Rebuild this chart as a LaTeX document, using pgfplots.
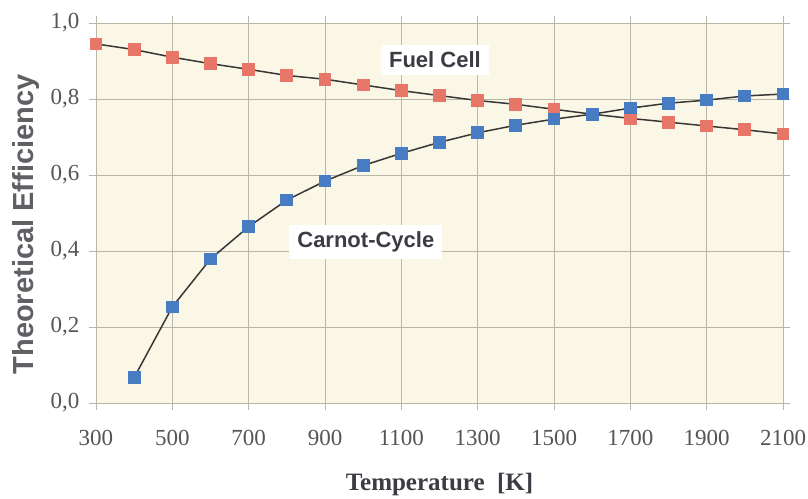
\documentclass[border=0pt]{standalone}
\usepackage{fontspec}
\setmainfont{Liberation Serif}
\newfontfamily\arialfont{Liberation Sans}
\usepackage{pgfplots}
\pgfplotsset{compat=1.18}
\definecolor{bgc}{RGB}{251,247,230}
\definecolor{gridc}{RGB}{185,183,168}
\definecolor{fuelc}{RGB}{232,118,104}
\definecolor{carnc}{RGB}{72,124,194}
\definecolor{linec}{RGB}{55,55,55}
\definecolor{tickc}{RGB}{85,85,85}
\definecolor{labc}{RGB}{95,95,100}
\definecolor{annc}{RGB}{60,60,68}
\begin{document}
\begin{tikzpicture}[x=1pt,y=1pt]
\useasboundingbox (0,0) rectangle (808,498);
\begin{axis}[
  at={(96pt,95pt)}, anchor=south west,
  scale only axis, width=687pt, height=380pt,
  xmin=300, xmax=2100, ymin=0, ymax=1,
  xtick={300,500,...,2100},
  ytick={0,0.2,...,1.0},
  grid=major,
  major grid style={draw=gridc, line width=0.7pt},
  axis line style={draw=gridc, line width=0.8pt},
  tick style={draw=gridc, line width=0.8pt},
  tick align=outside, major tick length=7pt,
  axis background/.style={fill=bgc},
  xticklabel style={font=\fontsize{23}{26}\selectfont, text=tickc, /pgf/number format/1000 sep={}},
  yticklabel style={font=\fontsize{23}{26}\selectfont, text=tickc,
     /pgf/number format/.cd, use comma, fixed, fixed zerofill, precision=1},
  /pgf/number format/assume math mode=true,
  xticklabel shift=17pt, yticklabel shift=6pt,
  xlabel={\textbf{Temperature\ \ [K]}},
  xlabel style={font=\fontsize{25}{28}\selectfont, text=annc, at={(ticklabel cs:0.5)}, yshift=-20pt},
  ylabel={\arialfont\bfseries Theoretical Efficiency},
  ylabel style={font=\fontsize{29}{31}\selectfont, text=labc, at={(ticklabel cs:0.47)}, yshift=4pt},
  clip=false,
]
\addplot[linec, line width=1.5pt, mark=square*, mark size=5.6pt,
  mark options={draw=fuelc, fill=fuelc}] coordinates {
(300,0.945) (400,0.930) (500,0.910) (600,0.893) (700,0.878) (800,0.862)
(900,0.852) (1000,0.837) (1100,0.822) (1200,0.809) (1300,0.796) (1400,0.786)
(1500,0.773) (1600,0.760) (1700,0.749) (1800,0.739) (1900,0.729) (2000,0.719)
(2100,0.708)};
\addplot[linec, line width=1.5pt, mark=square*, mark size=5.6pt,
  mark options={draw=carnc, fill=carnc}] coordinates {
(400,0.067) (500,0.253) (600,0.379) (700,0.464) (800,0.534) (900,0.584)
(1000,0.625) (1100,0.657) (1200,0.686) (1300,0.711) (1400,0.731) (1500,0.747)
(1600,0.760) (1700,0.776) (1800,0.789) (1900,0.797) (2000,0.808) (2100,0.813)};
\node[fill=white, inner xsep=8pt, inner ysep=7pt, text=annc, font=\arialfont\bfseries\fontsize{22}{24}\selectfont]
  at (axis cs:1188,0.903) {Fuel Cell};
\node[fill=white, inner xsep=8pt, inner ysep=7pt, text=annc, font=\arialfont\bfseries\fontsize{22}{24}\selectfont]
  at (axis cs:1007,0.424) {Carnot-Cycle};
\end{axis}
\end{tikzpicture}
\end{document}
